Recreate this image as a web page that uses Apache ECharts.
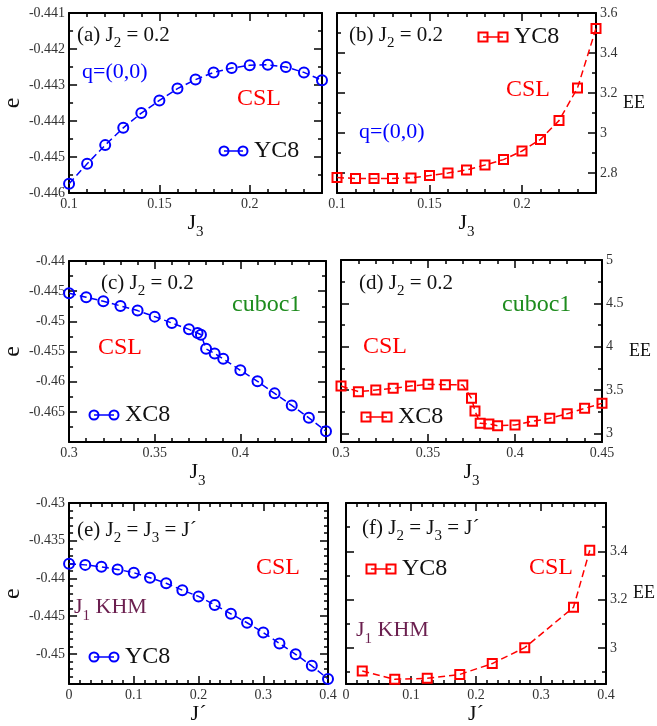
<!DOCTYPE html>
<html>
<head>
<meta charset="utf-8">
<script src="https://cdn.jsdelivr.net/npm/echarts@6/dist/echarts.min.js"></script>
<style>html,body{margin:0;padding:0;background:#fff}#c{width:657px;height:726px}</style>
</head>
<body>
<div id="c"></div>
<script>
// ---------- data ----------
const aX = [0.10,0.11,0.12,0.13,0.14,0.15,0.16,0.17,0.18,0.19,0.20,0.21,0.22,0.23,0.24];
const aY = [-0.44574,-0.44519,-0.44467,-0.44419,-0.44378,-0.44343,-0.44310,-0.44285,-0.44265,-0.44253,-0.44245,-0.44244,-0.44250,-0.44265,-0.44287];
const bX = [0.10,0.11,0.12,0.13,0.14,0.15,0.16,0.17,0.18,0.19,0.20,0.21,0.22,0.23,0.24];
const bY = [2.777,2.773,2.772,2.773,2.775,2.787,2.800,2.815,2.840,2.867,2.910,2.968,3.062,3.225,3.523];
const cX = [0.30,0.31,0.32,0.33,0.34,0.35,0.36,0.37,0.375,0.377,0.38,0.385,0.39,0.40,0.41,0.42,0.43,0.44,0.45];
const cY = [-0.44533,-0.44600,-0.44667,-0.44744,-0.44822,-0.44922,-0.45028,-0.45133,-0.45194,-0.45222,-0.45456,-0.45533,-0.45622,-0.45811,-0.45994,-0.46194,-0.46394,-0.46600,-0.46822];
const dX = [0.30,0.31,0.32,0.33,0.34,0.35,0.36,0.37,0.375,0.377,0.38,0.385,0.39,0.40,0.41,0.42,0.43,0.44,0.45];
const dY = [3.546,3.481,3.500,3.519,3.546,3.565,3.562,3.558,3.404,3.258,3.115,3.108,3.088,3.096,3.138,3.173,3.227,3.288,3.346];
const eX = [0,0.025,0.05,0.075,0.1,0.125,0.15,0.175,0.2,0.225,0.25,0.275,0.3,0.325,0.35,0.375,0.4];
const eY = [-0.43806,-0.43820,-0.43846,-0.43880,-0.43924,-0.43990,-0.44064,-0.44155,-0.44238,-0.44351,-0.44469,-0.44587,-0.44717,-0.44861,-0.45005,-0.45158,-0.45332];
const fX = [0.025,0.075,0.125,0.175,0.225,0.275,0.35,0.375];
const fY = [2.904,2.870,2.874,2.890,2.935,3.001,3.168,3.404];

// axis ranges [min, max]
const aXRange = [0.1, 0.24], aYRange = [-0.446, -0.441];
const bXRange = [0.1, 0.24], bYRange = [2.7, 3.6];
const cXRange = [0.3, 0.45], cYRange = [-0.47, -0.44];
const dXRange = [0.3, 0.45], dYRange = [2.9, 5];
const eXRange = [0, 0.4],   eYRange = [-0.454, -0.43];
const fXRange = [0, 0.4],   fYRange = [2.85, 3.6];

// ---------- styling ----------
const FF = '"Liberation Serif","Times New Roman",serif';
const BLUE = '#0000ff', RED = '#ff0000', GREEN = '#1e8c1e', PURPLE = '#6b1f4f', INK = '#111';

const grids = [
  {left:64, top:13, width:258, height:180},
  {left:337, top:13, width:259, height:180},
  {left:65, top:261, width:261, height:181},
  {left:341, top:260, width:261, height:182},
  {left:66, top:503, width:262, height:183},
  {left:346, top:503, width:261, height:183}
];

function subRich(size, color){
  const s = Math.round(size*0.7);
  return {
    n:{fontSize:size, fontFamily:FF, color:color, fill:color},
    s:{fontSize:s, fontFamily:FF, color:color, fill:color, padding:[Math.round(size*0.8),0,0,0]}
  };
}

const tickLine = {color:'#000', width:1.5};
function baseAxis(gi, pos, range, opt){
  const ax = {
    gridIndex:gi, type:'value', position:pos, min:range[0], max:range[1],
    axisLine:{show:true, onZero:false, lineStyle:{color:'#000', width:2}},
    axisTick:{show:true, inside:true, length:8, lineStyle:tickLine},
    minorTick:{show:true, splitNumber:opt.minor, length:4, lineStyle:tickLine},
    splitLine:{show:false},
    axisLabel:{show:!!opt.labels, margin:4, fontSize:14, fontFamily:FF, color:'#333',
      showMinLabel: opt.hideMin ? false : null, showMaxLabel: opt.hideMax ? false : null}
  };
  if (opt.interval) ax.interval = opt.interval; else ax.splitNumber = opt.split || 5;
  if (opt.name){
    ax.name = opt.name; ax.nameLocation = 'middle'; ax.nameGap = opt.nameGap;
    ax.nameRotate = opt.nameRotate;
    ax.nameTextStyle = {fontFamily:FF, fontSize:opt.nameSize||22, color:INK, rich: subRich(opt.nameSize||22, INK)};
  }
  return ax;
}

const xAxes = [], yAxes = [];
const xOpts = [
  {range:aXRange, interval:0.05, minor:5, hideMax:true, name:'{n|J}{s|3}'},
  {range:bXRange, interval:0.05, minor:5, hideMax:true, name:'{n|J}{s|3}'},
  {range:cXRange, interval:0.05, minor:5, hideMax:true, name:'{n|J}{s|3}'},
  {range:dXRange, interval:0.05, minor:5, name:'{n|J}{s|3}'},
  {range:eXRange, interval:0.1, minor:6, name:'{n|J´}'},
  {range:fXRange, interval:0.1, minor:6, name:'{n|J´}'}
];
const yOpts = [
  {range:aYRange, interval:0.001, minor:2, right:false},
  {range:bYRange, minor:2, right:true, hideMin:true},
  {range:cYRange, interval:0.005, minor:2, right:false, hideMin:true},
  {range:dYRange, minor:2, right:true, hideMin:true},
  {range:eYRange, minor:5, right:false, hideMin:true},
  {range:fYRange, minor:2, split:4, right:true, hideMin:true, hideMax:true}
];
for (let i=0;i<6;i++){
  const xo = xOpts[i];
  xAxes.push(baseAxis(i,'bottom',xo.range,{interval:xo.interval, minor:xo.minor, labels:true, hideMax:xo.hideMax, name:xo.name, nameGap:12}));
  xAxes.push(baseAxis(i,'top',xo.range,{interval:xo.interval, minor:xo.minor, labels:false}));
  const yo = yOpts[i];
  const labOpt = {interval:yo.interval, minor:yo.minor, split:yo.split, labels:true, hideMin:yo.hideMin, hideMax:yo.hideMax};
  const noOpt = {interval:yo.interval, minor:yo.minor, split:yo.split, labels:false};
  if (!yo.right){
    yAxes.push(baseAxis(i,'left',yo.range,Object.assign({}, labOpt, {name:'{n|e}', nameGap:44, nameRotate:90, nameSize:24})));
    yAxes.push(baseAxis(i,'right',yo.range,noOpt));
  } else {
    yAxes.push(baseAxis(i,'left',yo.range,noOpt));
    yAxes.push(baseAxis(i,'right',yo.range,Object.assign({}, labOpt, {name:'{n|EE}', nameGap:27, nameRotate:0, nameSize:18})));
  }
}

function mkSeries(i, xs, ys, shape, color){
  return {
    type:'line', xAxisIndex:2*i, yAxisIndex:2*i, clip:false, animation:false,
    data: xs.map((x,k)=>[x, ys[k]]),
    symbol: shape, symbolSize: shape==='circle' ? 10 : 9,
    itemStyle:{color:'rgba(0,0,0,0)', borderColor:color, borderWidth:2},
    lineStyle:{color:color, width:1.5, type:[7,4]},
    emphasis:{disabled:true}
  };
}
const series = [
  mkSeries(0,aX,aY,'circle',BLUE),
  mkSeries(1,bX,bY,'rect',RED),
  mkSeries(2,cX,cY,'circle',BLUE),
  mkSeries(3,dX,dY,'rect',RED),
  mkSeries(4,eX,eY,'circle',BLUE),
  mkSeries(5,fX,fY,'rect',RED)
];

// ---------- annotations ----------
function txt(x, y, text, size, color){
  return {type:'text', x:x, y:y, z:100, style:{text:text, fill:color, font: size+'px '+FF, verticalAlign:'middle', rich: subRich(size, color)}};
}
function legend(shape, color, x1, x2, y, label, size){
  const els = [{type:'line', z:100, shape:{x1:x1, y1:y, x2:x2, y2:y}, style:{stroke:color, lineWidth:1.5}}];
  [x1,x2].forEach(cx=>{
    if (shape==='circle') els.push({type:'circle', z:101, shape:{cx:cx, cy:y, r:4.5}, style:{fill:'none', stroke:color, lineWidth:2}});
    else els.push({type:'rect', z:101, shape:{x:cx-4.5, y:y-4.5, width:9, height:9}, style:{fill:'none', stroke:color, lineWidth:2}});
  });
  els.push(txt(x2+11, y, label, size||24, INK));
  return els;
}
const graphic = [].concat(
  [txt(77,35,'{n|(a) J}{s|2}{n| = 0.2}',21,INK), txt(82,72,'q=(0,0)',22,BLUE), txt(237,99,'CSL',24,RED)],
  legend('circle',BLUE,224,243,151,'YC8'),
  [txt(349,35,'{n|(b) J}{s|2}{n| = 0.2}',21,INK), txt(506,90,'CSL',24,RED), txt(359,132,'q=(0,0)',22,BLUE)],
  legend('rect',RED,483,503,37,'YC8'),
  [txt(101,283,'{n|(c) J}{s|2}{n| = 0.2}',21,INK), txt(232,305,'cuboc1',24,GREEN), txt(98,348,'CSL',24,RED)],
  legend('circle',BLUE,94,114,415,'XC8'),
  [txt(359,283,'{n|(d) J}{s|2}{n| = 0.2}',21,INK), txt(502,305,'cuboc1',24,GREEN), txt(363,347,'CSL',24,RED)],
  legend('rect',RED,366,387,417,'XC8'),
  [txt(77,530,'{n|(e) J}{s|2}{n| = J}{s|3}{n| = J´}',21,INK), txt(256,568,'CSL',24,RED), txt(74,607,'{n|J}{s|1}{n| KHM}',22,PURPLE)],
  legend('circle',BLUE,94,114,657,'YC8'),
  [txt(362,528,'{n|(f) J}{s|2}{n| = J}{s|3}{n| = J´}',21,INK), txt(529,568,'CSL',24,RED), txt(356,630,'{n|J}{s|1}{n| KHM}',22,PURPLE)],
  legend('rect',RED,371,391,569,'YC8')
);

const chart = echarts.init(document.getElementById('c'), null, {renderer:'canvas'});
chart.setOption({
  animation:false,
  backgroundColor:'#fff',
  grid: grids,
  xAxis: xAxes,
  yAxis: yAxes,
  series: series,
  graphic: graphic
});
</script>
</body>
</html>
